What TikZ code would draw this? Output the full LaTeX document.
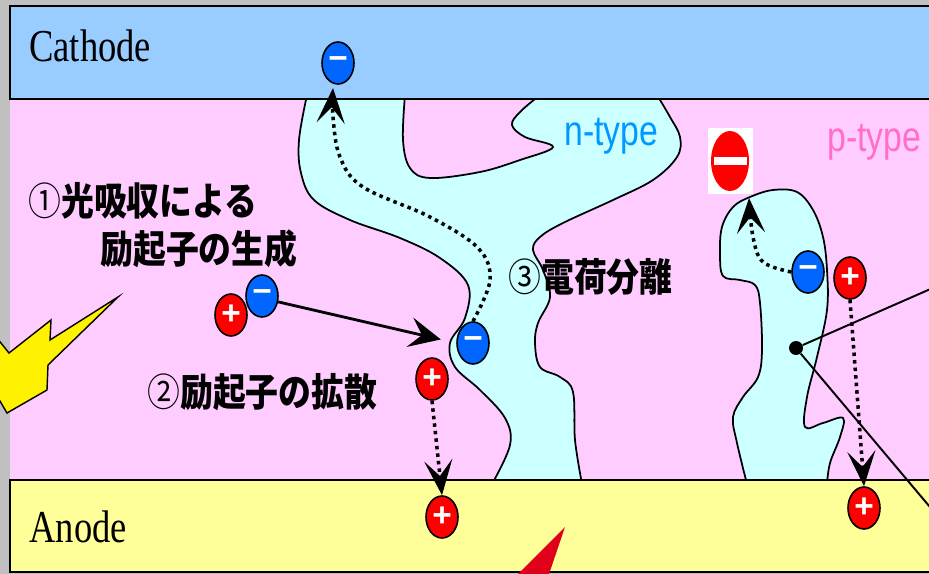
\documentclass[tikz,border=0pt]{standalone}
\usepackage{fontspec}
\usetikzlibrary{shapes.geometric,arrows.meta}

\newfontfamily\jpfont{Noto Sans CJK JP}[FakeStretch=0.85]
\newfontfamily\electrodefont{Liberation Serif}[FakeStretch=0.8]
\newfontfamily\typefont{Liberation Sans}[FakeStretch=0.8]
\newfontfamily\chargefont{Liberation Sans}
\newcommand{\stepno}[1]{{\mdseries #1}}

\definecolor{frame-gray}{RGB}{192,192,192}
\definecolor{cathode-blue}{HTML}{99CCFF}
\definecolor{blend-pink}{HTML}{FFCCFF}
\definecolor{anode-yellow}{HTML}{FFFF99}
\definecolor{ntype-cyan}{HTML}{CCFFFF}
\definecolor{electron-blue}{HTML}{0066FF}
\definecolor{ntype-text}{HTML}{0099FF}
\definecolor{ptype-text}{RGB}{255,110,200}
\definecolor{needle-red}{RGB}{224,0,26}

\begin{document}
\begin{tikzpicture}[x=0.02cm,y=-0.02cm]
        \tikzstyle{electron}=[ellipse, draw=black, line width=0.9pt, fill=electron-blue, minimum width=0.64cm, minimum height=0.84cm, inner sep=0pt, text=white, font=\chargefont\bfseries\fontsize{19}{19}\selectfont]
        \tikzstyle{hole}=[electron, fill=red]
        \tikzstyle{n-domain}=[draw=black, line width=1pt, fill=ntype-cyan]
        \tikzstyle{electrode}=[draw=black, line width=1.1pt]
        \tikzstyle{electrode-label}=[anchor=base west, inner sep=0pt, font=\electrodefont\fontsize{26}{26}\selectfont]
        \tikzstyle{type-label}=[anchor=base west, inner sep=0pt, font=\typefont\fontsize{24}{24}\selectfont]
        \tikzstyle{step-label}=[anchor=west, inner sep=0pt, font=\jpfont\bfseries\fontsize{22}{22}\selectfont]
        \tikzstyle{hop}=[-{Stealth[length=20pt, width=16pt, inset=9pt]}, line width=2pt, dash pattern=on 2pt off 2.3pt]
        \tikzstyle{transfer}=[-{Stealth[length=18pt, width=17pt, inset=7pt]}, line width=1.6pt]

        \useasboundingbox (0,0) rectangle (929,574);
        \clip (0,0) rectangle (929,574);
        \fill[frame-gray] (0,0) rectangle (929,574);

        % active layer and the two donor/acceptor domains
        \fill[blend-pink] (10,99) rectangle (940,480);
        \filldraw[n-domain] plot[smooth, tension=0.6] coordinates {(307,95) (299,140) (301,173) (314,200) (350,220) (400,238) (440,258) (468,285) (465,318) (450,343) (455,367) (480,390) (505,418) (510,445) (492,484)}
        -- plot[smooth, tension=0.6] coordinates {(582,484) (575,440) (573,392) (560,377) (540,367) (535,343) (538,323) (550,297) (543,270) (533,250) (540,237) (563,223) (613,200) (653,180) (677,157) (680,137) (670,117) (657,95)}
        -- plot[smooth, tension=0.6] coordinates {(540,95) (520,112) (512,125) (525,137) (553,147) (520,160) (480,172) (430,178) (410,168) (403,140) (405,95)}
        -- cycle;
        \filldraw[n-domain] plot[smooth, tension=0.6] coordinates {(747,484) (737,443) (733,417) (743,397) (758,377) (762,350) (760,303) (755,285) (740,280) (723,276) (720,253) (722,227) (733,207) (750,197) (773,190) (797,192) (813,210) (823,237) (827,270) (827,310) (817,357) (807,397) (805,427) (823,423) (843,418) (840,437) (830,463) (827,484)}
        -- cycle;

        % electrodes
        \filldraw[electrode, fill=cathode-blue] (10,6) rectangle (940,99);
        \filldraw[electrode, fill=anode-yellow] (10,480) rectangle (940,572);
        \node[electrode-label] (cathode) at (29,62) {Cathode};
        \node[electrode-label] (anode) at (29,542) {Anode};
        \node[type-label, text=ntype-text] (ntype) at (564,146) {n-type};
        \node[type-label, text=ptype-text] (ptype) at (827,152) {p-type};

        \node[step-label] (step-one) at (28,201) {\stepno{①}光吸収による};
        \node[step-label] (step-one-b) at (100,249) {励起子の生成};
        \node[step-label] (step-two) at (147,392) {\stepno{②}励起子の拡散};
        \node[step-label] (step-three) at (508,277) {\stepno{③}電荷分離};

        % charges
        \node[electron] (e-cathode) at (338,63) {−};
        \node[hole] (h-exciton) at (231,315) {+};
        \node[electron] (e-exciton) at (262,296) {−};
        \node[electron] (e-split) at (473,343) {−};
        \node[hole] (h-split) at (432,379) {+};
        \node[hole] (h-anode) at (442,517) {+};
        \node[electron] (e-trap) at (808,272) {−};
        \node[hole] (h-trap) at (850,278) {+};
        \node[hole] (h-anode-b) at (864,508) {+};
        \node[fill=white, minimum width=0.9cm, minimum height=1.32cm, inner sep=0pt] (blocked) at (730,161) {};
        \node[ellipse, fill=red, minimum width=0.76cm, minimum height=1.2cm, inner sep=0pt] (blocked-sign) at (blocked) {};
        \node[fill=white, minimum width=0.66cm, minimum height=0.18cm, inner sep=0pt] (blocked-bar) at (blocked) {};

        \draw[transfer, shorten >=9pt] (e-exciton.-20) -- (e-split.west);
        \draw[hop] plot[smooth, tension=0.6] coordinates {(e-split.north) (490,280) (478,248) (430,217) (363,187) (340,157) (333,117) (333,88)};
        \draw[hop] (h-split.south) -- (h-anode.north);
        \draw[hop] plot[smooth, tension=0.6] coordinates {(e-trap.west) (763,262) (753,237) (749,198)};
        \draw[hop] (h-trap.south) -- (h-anode-b.north);

        % pointer to the trapped domain
        \node[circle, fill=black, minimum size=0.28cm, inner sep=0pt] (trap-dot) at (796,348) {};
        \coordinate (pointer-up) at (935,287);
        \coordinate (pointer-down) at (935,513);
        \draw[line width=1.1pt] (pointer-up) -- (trap-dot) -- (pointer-down);

        % light and needle
        \filldraw[fill=yellow, draw=black, line width=0.8pt] (118,297) -- (50,340) -- (51,320) -- (9,353) -- (-3,338) -- (-15,345) -- (-15,398) -- (-3,396) -- (7,413) -- (47,390) -- (48,365) -- cycle;
        \fill[needle-red] (565,527) -- (547,580) -- (512,580) -- cycle;
\end{tikzpicture}
\end{document}
